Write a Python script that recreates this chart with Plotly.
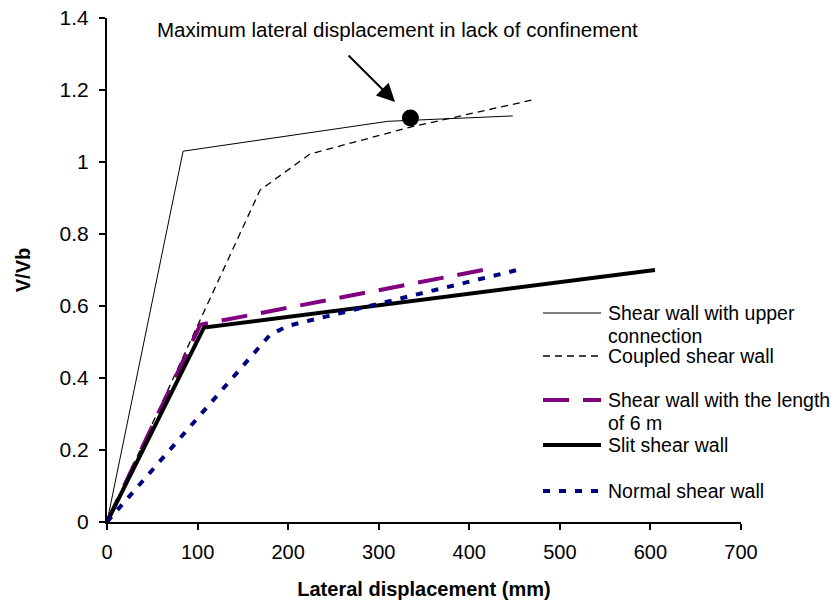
import plotly.graph_objects as go

# ---- data ----
upper_x = [0, 84, 310, 448]
upper_y = [0, 1.03, 1.113, 1.128]

coupled_x = [0, 169, 224, 335, 469]
coupled_y = [0, 0.922, 1.022, 1.097, 1.172]

six_x = [0, 103, 415]
six_y = [0, 0.548, 0.70]

slit_x = [0, 107, 605]
slit_y = [0, 0.54, 0.70]

normal_x = [0, 180, 200, 453]
normal_y = [0, 0.52, 0.545, 0.70]

marker_x = [335]
marker_y = [1.122]

names = ["Shear wall with upper<br>connection", "Coupled shear wall",
         "Shear wall with the length<br>of 6 m", "Slit shear wall", "Normal shear wall"]

FONT = "Liberation Sans, Arial, sans-serif"

series = [
    (upper_x, upper_y, dict(color="black", width=1, dash="solid")),
    (coupled_x, coupled_y, dict(color="black", width=1.3, dash="7px,5px")),
    (six_x, six_y, dict(color="#800080", width=4, dash="26px,14px")),
    (slit_x, slit_y, dict(color="black", width=4, dash="solid")),
    (normal_x, normal_y, dict(color="#000080", width=4, dash="7px,9px")),
]

fig = go.Figure()
for (xs, ys, ln), nm in zip(series, names):
    fig.add_trace(go.Scatter(x=xs, y=ys, mode="lines", line=ln, name=nm,
                             showlegend=False, hoverinfo="skip"))

fig.add_trace(go.Scatter(x=marker_x, y=marker_y, mode="markers",
                         marker=dict(color="black", size=17), showlegend=False))

# ---- manual legend (positions in paper coords) ----
L, T, W, H = 107, 18, 634, 504
def px(x):
    return (x - L) / W
def py(y):
    return (T + H - y) / H

legend_rows = [
    (313, ["Shear wall with upper", "connection"]),
    (356, ["Coupled shear wall"]),
    (400, ["Shear wall with the length", "of 6 m"]),
    (445, ["Slit shear wall"]),
    (491, ["Normal shear wall"]),
]
shapes = []
annotations = []
for (yy, lines), (_, _, ln) in zip(legend_rows, series):
    shapes.append(dict(type="line", xref="paper", yref="paper",
                       x0=px(543), x1=px(601), y0=py(yy), y1=py(yy),
                       line=ln))
    for i, t in enumerate(lines):
        annotations.append(dict(xref="paper", yref="paper", x=px(606), y=py(yy + 23 * i),
                                text=t, showarrow=False, xanchor="left", yanchor="middle",
                                font=dict(family=FONT, size=19.5, color="black")))

annotations.append(dict(x=321, y=1.367, xref="x", yref="y",
                        text="Maximum lateral displacement in lack of confinement",
                        showarrow=False, xanchor="center", yanchor="middle",
                        font=dict(family=FONT, size=20.5, color="black")))
annotations.append(dict(x=318, y=1.167, xref="x", yref="y", ax=265, ay=1.30,
                        axref="x", ayref="y", text="", showarrow=True,
                        arrowhead=2, arrowsize=1.8, arrowwidth=2, arrowcolor="black"))

fig.update_layout(
    width=840, height=600,
    margin=dict(l=L, r=840 - L - W, t=T, b=600 - T - H, autoexpand=False),
    paper_bgcolor="white", plot_bgcolor="white",
    font=dict(family=FONT, size=20, color="black"),
    shapes=shapes, annotations=annotations,
    showlegend=False,
)
fig.update_xaxes(range=[0, 700], tickvals=[0, 100, 200, 300, 400, 500, 600, 700],
                 showgrid=False, zeroline=False, showline=True, linecolor="black",
                 linewidth=2, ticks="outside", ticklen=6, tickwidth=2, tickcolor="black",
                 tickfont=dict(size=20), ticklabelstandoff=5, automargin=False,
                 title=dict(text="<b>Lateral displacement (mm)</b>", font=dict(size=20),
                            standoff=23))
fig.update_yaxes(range=[0, 1.4], tickvals=[0, 0.2, 0.4, 0.6, 0.8, 1.0, 1.2, 1.4],
                 ticktext=["0", "0.2", "0.4", "0.6", "0.8", "1", "1.2", "1.4"],
                 showgrid=False, zeroline=False, showline=True, linecolor="black",
                 linewidth=2, ticks="outside", ticklen=6, tickwidth=2, tickcolor="black",
                 tickfont=dict(size=21), ticklabelstandoff=6, automargin=False,
                 title=dict(text="<b>V/Vb</b>", font=dict(size=20), standoff=24))

fig.write_html("out.html")
